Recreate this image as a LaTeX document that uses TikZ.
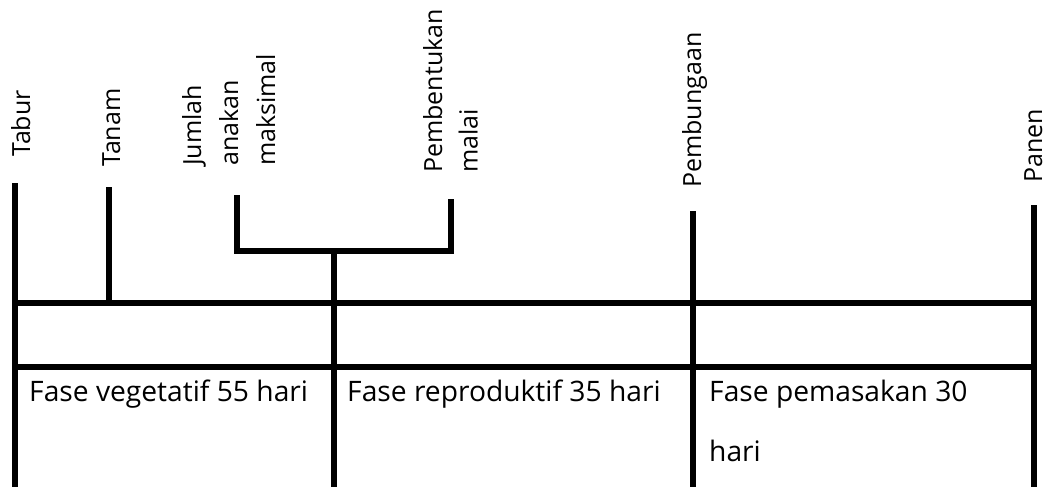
\documentclass[tikz,border=0pt]{standalone}
\usepackage{fontspec}
\setmainfont{Open Sans}
\begin{document}
\begin{tikzpicture}[x=1pt,y=-1pt,
  bar/.style={line width=6pt,line cap=butt,line join=miter},
  vlabel/.style={rotate=90,anchor=base west,inner sep=0pt,
    font=\fontsize{25}{35}\selectfont},
  cell/.style={anchor=base west,inner sep=0pt,
    font=\fontsize{28.2}{38}\selectfont}]
\useasboundingbox (0,0) rectangle (1049,487);

% tick tops
\coordinate (tabur) at (15,183);
\coordinate (tanam) at (109,187);
\coordinate (jumlah) at (237,195);
\coordinate (malai) at (451,199);
\coordinate (bunga) at (693,211);
\coordinate (panen) at (1033.5,205);

% bracket joining the two events of the reproductive start
\coordinate (brL) at (237,251);
\coordinate (brR) at (451,251);
\coordinate (brM) at (333.5,251);

% rows of the table
\coordinate (r1L) at (15,303);
\coordinate (r1R) at (1033.5,303);
\coordinate (r2L) at (15,366.5);
\coordinate (r2R) at (1033.5,366.5);
\coordinate (tanamB) at (109,303);

% bottom ends of the column lines
\coordinate (c1) at (15,487);
\coordinate (c2) at (333.5,487);
\coordinate (c3) at (693,487);
\coordinate (c4) at (1033.5,487);

% lines
\draw[bar] (tabur) -- (c1);
\draw[bar] (tanam) -- (tanamB);
\draw[bar] (jumlah) -- (brL) -- (brR) -- (malai);
\draw[bar] (brM) -- (c2);
\draw[bar] (bunga) -- (c3);
\draw[bar] (panen) -- (c4);
\draw[bar] (r1L) -- (r1R);
\draw[bar] (r2L) -- (r2R);

% event labels
\node[vlabel] (lTabur) at (30,157) {Tabur};
\node[vlabel] (lTanam) at (120,167) {Tanam};
\node[vlabel] (lJum1) at (201,166) {Jumlah};
\node[vlabel] (lJum2) at (238,166) {anakan};
\node[vlabel] (lJum3) at (275,166) {maksimal};
\node[vlabel] (lMal1) at (442,173) {Pembentukan};
\node[vlabel] (lMal2) at (477.5,173) {malai};
\node[vlabel] (lBunga) at (701,188) {Pembungaan};
\node[vlabel] (lPanen) at (1042,183) {Panen};

% phase cells
\node[cell] (fVeg) at (29,401) {Fase vegetatif 55 hari};
\node[cell] (fRep) at (347,401) {Fase reproduktif 35 hari};
\node[cell] (fMas1) at (709,401) {Fase pemasakan 30};
\node[cell] (fMas2) at (709,461) {hari};
\end{tikzpicture}
\end{document}
